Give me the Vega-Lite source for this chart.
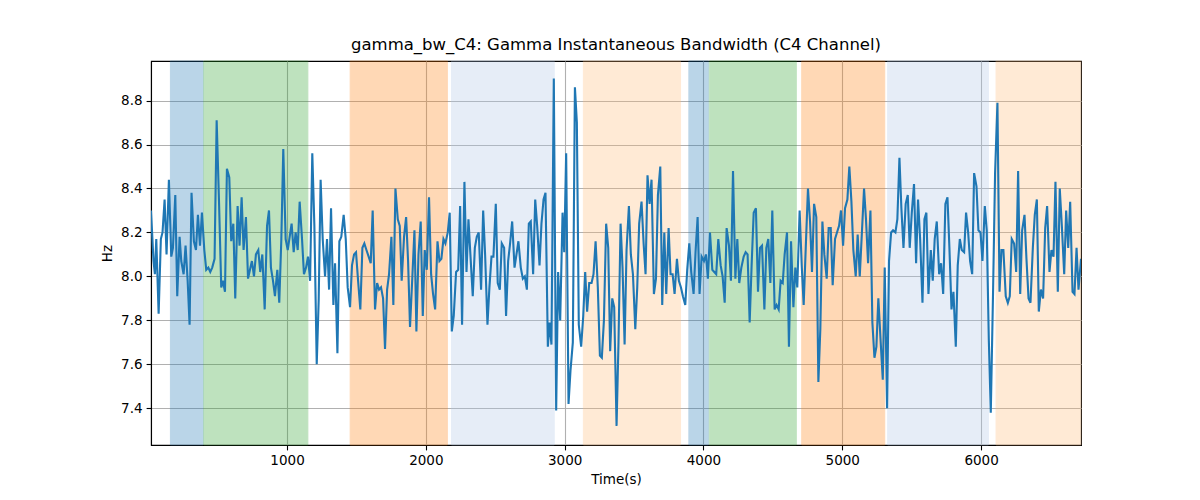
{
  "$schema": "https://vega.github.io/schema/vega-lite/v6.json",
  "autosize": {"type": "none"},
  "width": 930,
  "height": 384,
  "padding": {"left": 151, "top": 61, "right": 119, "bottom": 55},
  "title": {
    "text": "gamma_bw_C4: Gamma Instantaneous Bandwidth (C4 Channel)",
    "font": "DejaVu Sans",
    "fontSize": 16.5,
    "fontWeight": "normal",
    "color": "black",
    "anchor": "middle",
    "offset": 7
  },
  "config": {
    "view": {"stroke": "black", "strokeWidth": 1.1},
    "axis": {
      "grid": true,
      "gridColor": "#b0b0b0",
      "gridWidth": 1.1,
      "domainColor": "black",
      "domainWidth": 1.1,
      "tickColor": "black",
      "tickSize": 4.9,
      "tickWidth": 1.1,
      "labelColor": "black",
      "labelFont": "DejaVu Sans",
      "labelFontSize": 13.5,
      "labelPadding": 4,
      "titleFont": "DejaVu Sans",
      "titleFontSize": 13.5,
      "titleFontWeight": "normal",
      "titleColor": "black"
    }
  },
  "datasets": {
    "bands": [
      {"start": 160, "end": 395, "kind": "A"},
      {"start": 400, "end": 1150, "kind": "B"},
      {"start": 1455, "end": 2155, "kind": "C"},
      {"start": 2185, "end": 2925, "kind": "D"},
      {"start": 3135, "end": 3835, "kind": "E"},
      {"start": 3895, "end": 4035, "kind": "A"},
      {"start": 4042, "end": 4669, "kind": "B"},
      {"start": 4708, "end": 5306, "kind": "C"},
      {"start": 5327, "end": 6053, "kind": "D"},
      {"start": 6108, "end": 6720, "kind": "E"}
    ],
    "series": [
      {"t": 20, "v": 8.30}, {"t": 38, "v": 8.07}, {"t": 48, "v": 8.01}, {"t": 58, "v": 8.17},
      {"t": 75, "v": 7.83}, {"t": 91, "v": 8.17}, {"t": 103, "v": 8.20}, {"t": 118, "v": 8.35},
      {"t": 132, "v": 8.10}, {"t": 149, "v": 8.44}, {"t": 166, "v": 8.09}, {"t": 178, "v": 8.13},
      {"t": 195, "v": 8.37}, {"t": 209, "v": 7.91}, {"t": 226, "v": 8.18}, {"t": 238, "v": 8.07},
      {"t": 255, "v": 8.01}, {"t": 269, "v": 8.14}, {"t": 284, "v": 7.98}, {"t": 298, "v": 7.78},
      {"t": 312, "v": 8.38}, {"t": 329, "v": 8.16}, {"t": 344, "v": 8.12}, {"t": 358, "v": 8.28},
      {"t": 373, "v": 8.14}, {"t": 387, "v": 8.29}, {"t": 404, "v": 8.12}, {"t": 418, "v": 8.03},
      {"t": 433, "v": 8.04}, {"t": 447, "v": 8.02}, {"t": 461, "v": 8.04}, {"t": 478, "v": 8.08},
      {"t": 493, "v": 8.71}, {"t": 510, "v": 8.34}, {"t": 526, "v": 7.95}, {"t": 538, "v": 7.98},
      {"t": 553, "v": 7.93}, {"t": 567, "v": 8.49}, {"t": 584, "v": 8.45}, {"t": 598, "v": 8.16},
      {"t": 613, "v": 8.24}, {"t": 627, "v": 7.90}, {"t": 644, "v": 8.32}, {"t": 658, "v": 8.14},
      {"t": 673, "v": 8.36}, {"t": 687, "v": 8.12}, {"t": 704, "v": 8.27}, {"t": 719, "v": 7.99},
      {"t": 733, "v": 8.03}, {"t": 747, "v": 8.07}, {"t": 762, "v": 8.00}, {"t": 776, "v": 8.10},
      {"t": 793, "v": 8.12}, {"t": 807, "v": 8.02}, {"t": 822, "v": 8.10}, {"t": 839, "v": 7.85},
      {"t": 856, "v": 8.23}, {"t": 870, "v": 8.30}, {"t": 884, "v": 8.04}, {"t": 899, "v": 7.98},
      {"t": 913, "v": 7.91}, {"t": 930, "v": 8.03}, {"t": 944, "v": 7.88}, {"t": 959, "v": 8.17},
      {"t": 973, "v": 8.58}, {"t": 990, "v": 8.17}, {"t": 1005, "v": 8.12}, {"t": 1019, "v": 8.18},
      {"t": 1033, "v": 8.24}, {"t": 1048, "v": 8.11}, {"t": 1062, "v": 8.20}, {"t": 1077, "v": 8.12},
      {"t": 1091, "v": 8.34}, {"t": 1108, "v": 8.17}, {"t": 1122, "v": 8.01}, {"t": 1137, "v": 8.04},
      {"t": 1151, "v": 8.09}, {"t": 1166, "v": 7.98}, {"t": 1182, "v": 8.56}, {"t": 1197, "v": 8.23},
      {"t": 1214, "v": 7.60}, {"t": 1228, "v": 7.89}, {"t": 1242, "v": 8.44}, {"t": 1257, "v": 8.17},
      {"t": 1274, "v": 8.00}, {"t": 1288, "v": 8.17}, {"t": 1303, "v": 7.94}, {"t": 1317, "v": 8.31},
      {"t": 1334, "v": 7.87}, {"t": 1346, "v": 8.06}, {"t": 1363, "v": 7.65}, {"t": 1377, "v": 8.16},
      {"t": 1391, "v": 8.18}, {"t": 1408, "v": 8.28}, {"t": 1423, "v": 8.17}, {"t": 1437, "v": 7.95},
      {"t": 1454, "v": 7.86}, {"t": 1468, "v": 8.05}, {"t": 1483, "v": 8.10}, {"t": 1497, "v": 8.11},
      {"t": 1512, "v": 7.98}, {"t": 1528, "v": 7.85}, {"t": 1543, "v": 8.13}, {"t": 1557, "v": 8.15},
      {"t": 1572, "v": 8.12}, {"t": 1588, "v": 8.09}, {"t": 1603, "v": 8.06}, {"t": 1617, "v": 8.30},
      {"t": 1634, "v": 7.85}, {"t": 1649, "v": 7.97}, {"t": 1663, "v": 7.94}, {"t": 1677, "v": 7.95},
      {"t": 1692, "v": 7.90}, {"t": 1706, "v": 7.67}, {"t": 1721, "v": 7.94}, {"t": 1735, "v": 8.01},
      {"t": 1752, "v": 8.18}, {"t": 1766, "v": 7.87}, {"t": 1781, "v": 8.40}, {"t": 1798, "v": 8.26},
      {"t": 1812, "v": 8.23}, {"t": 1826, "v": 7.98}, {"t": 1843, "v": 8.18}, {"t": 1858, "v": 8.27},
      {"t": 1872, "v": 8.07}, {"t": 1886, "v": 7.77}, {"t": 1903, "v": 8.00}, {"t": 1918, "v": 8.21},
      {"t": 1932, "v": 7.75}, {"t": 1947, "v": 8.10}, {"t": 1963, "v": 8.25}, {"t": 1978, "v": 7.82},
      {"t": 1992, "v": 8.12}, {"t": 2007, "v": 8.03}, {"t": 2023, "v": 8.36}, {"t": 2038, "v": 8.01},
      {"t": 2052, "v": 7.92}, {"t": 2067, "v": 7.85}, {"t": 2084, "v": 8.16}, {"t": 2098, "v": 8.07},
      {"t": 2112, "v": 8.08}, {"t": 2127, "v": 8.17}, {"t": 2141, "v": 8.15}, {"t": 2158, "v": 8.20},
      {"t": 2172, "v": 8.29}, {"t": 2187, "v": 7.75}, {"t": 2201, "v": 7.82}, {"t": 2218, "v": 8.02},
      {"t": 2233, "v": 8.03}, {"t": 2247, "v": 8.32}, {"t": 2261, "v": 7.78}, {"t": 2278, "v": 8.43},
      {"t": 2293, "v": 8.02}, {"t": 2307, "v": 8.26}, {"t": 2321, "v": 8.10}, {"t": 2338, "v": 7.91},
      {"t": 2353, "v": 8.13}, {"t": 2367, "v": 8.18}, {"t": 2381, "v": 8.20}, {"t": 2398, "v": 7.94},
      {"t": 2413, "v": 8.30}, {"t": 2427, "v": 8.10}, {"t": 2444, "v": 7.78}, {"t": 2458, "v": 7.95},
      {"t": 2473, "v": 8.09}, {"t": 2487, "v": 8.09}, {"t": 2504, "v": 8.33}, {"t": 2518, "v": 7.97},
      {"t": 2533, "v": 7.94}, {"t": 2547, "v": 8.15}, {"t": 2564, "v": 8.13}, {"t": 2578, "v": 7.82},
      {"t": 2593, "v": 8.07}, {"t": 2607, "v": 8.15}, {"t": 2622, "v": 8.25}, {"t": 2639, "v": 8.04},
      {"t": 2653, "v": 8.10}, {"t": 2667, "v": 8.16}, {"t": 2684, "v": 8.04}, {"t": 2699, "v": 7.99},
      {"t": 2713, "v": 8.00}, {"t": 2728, "v": 7.94}, {"t": 2742, "v": 8.24}, {"t": 2756, "v": 8.25},
      {"t": 2773, "v": 8.01}, {"t": 2788, "v": 8.35}, {"t": 2802, "v": 8.23}, {"t": 2819, "v": 8.05},
      {"t": 2833, "v": 8.24}, {"t": 2848, "v": 8.35}, {"t": 2862, "v": 8.38}, {"t": 2879, "v": 7.68},
      {"t": 2891, "v": 7.79}, {"t": 2905, "v": 7.69}, {"t": 2922, "v": 8.90}, {"t": 2939, "v": 7.39},
      {"t": 2953, "v": 8.02}, {"t": 2968, "v": 7.80}, {"t": 2985, "v": 8.29}, {"t": 2997, "v": 8.11},
      {"t": 3011, "v": 8.56}, {"t": 3028, "v": 7.42}, {"t": 3042, "v": 7.57}, {"t": 3059, "v": 7.70},
      {"t": 3074, "v": 8.86}, {"t": 3088, "v": 8.70}, {"t": 3102, "v": 7.78}, {"t": 3119, "v": 7.68},
      {"t": 3134, "v": 7.82}, {"t": 3148, "v": 8.02}, {"t": 3162, "v": 7.84}, {"t": 3177, "v": 7.97},
      {"t": 3194, "v": 7.97}, {"t": 3208, "v": 8.01}, {"t": 3223, "v": 8.16}, {"t": 3239, "v": 7.95},
      {"t": 3254, "v": 7.64}, {"t": 3268, "v": 7.63}, {"t": 3283, "v": 7.80}, {"t": 3299, "v": 8.24},
      {"t": 3314, "v": 8.13}, {"t": 3328, "v": 7.66}, {"t": 3343, "v": 7.90}, {"t": 3357, "v": 7.86},
      {"t": 3374, "v": 7.32}, {"t": 3388, "v": 7.70}, {"t": 3403, "v": 8.24}, {"t": 3417, "v": 8.04},
      {"t": 3432, "v": 7.69}, {"t": 3446, "v": 8.12}, {"t": 3463, "v": 8.32}, {"t": 3477, "v": 8.10},
      {"t": 3492, "v": 8.01}, {"t": 3509, "v": 7.76}, {"t": 3523, "v": 7.95}, {"t": 3537, "v": 8.24},
      {"t": 3554, "v": 8.34}, {"t": 3569, "v": 8.15}, {"t": 3583, "v": 8.01}, {"t": 3597, "v": 8.46},
      {"t": 3612, "v": 8.33}, {"t": 3626, "v": 8.44}, {"t": 3643, "v": 7.92}, {"t": 3658, "v": 7.99},
      {"t": 3672, "v": 8.37}, {"t": 3689, "v": 8.50}, {"t": 3703, "v": 7.87}, {"t": 3718, "v": 8.20},
      {"t": 3732, "v": 7.92}, {"t": 3749, "v": 8.22}, {"t": 3763, "v": 8.01}, {"t": 3778, "v": 8.01},
      {"t": 3792, "v": 7.92}, {"t": 3809, "v": 8.08}, {"t": 3823, "v": 7.98}, {"t": 3838, "v": 7.95},
      {"t": 3852, "v": 7.91}, {"t": 3869, "v": 7.87}, {"t": 3883, "v": 8.03}, {"t": 3898, "v": 8.15},
      {"t": 3912, "v": 8.02}, {"t": 3929, "v": 7.92}, {"t": 3943, "v": 8.11}, {"t": 3958, "v": 8.27},
      {"t": 3972, "v": 7.92}, {"t": 3987, "v": 8.09}, {"t": 4004, "v": 8.07}, {"t": 4018, "v": 8.10},
      {"t": 4032, "v": 7.99}, {"t": 4047, "v": 8.20}, {"t": 4064, "v": 8.03}, {"t": 4078, "v": 8.02},
      {"t": 4092, "v": 8.01}, {"t": 4107, "v": 8.17}, {"t": 4124, "v": 8.05}, {"t": 4138, "v": 8.00},
      {"t": 4153, "v": 7.88}, {"t": 4167, "v": 8.22}, {"t": 4184, "v": 8.14}, {"t": 4198, "v": 7.98},
      {"t": 4213, "v": 8.48}, {"t": 4230, "v": 7.99}, {"t": 4244, "v": 8.17}, {"t": 4258, "v": 7.97},
      {"t": 4273, "v": 8.04}, {"t": 4290, "v": 8.09}, {"t": 4304, "v": 8.11}, {"t": 4318, "v": 8.10},
      {"t": 4333, "v": 7.79}, {"t": 4347, "v": 8.05}, {"t": 4362, "v": 8.29}, {"t": 4378, "v": 8.31},
      {"t": 4393, "v": 7.93}, {"t": 4407, "v": 8.13}, {"t": 4422, "v": 8.14}, {"t": 4439, "v": 7.85},
      {"t": 4453, "v": 8.13}, {"t": 4467, "v": 8.17}, {"t": 4482, "v": 7.97}, {"t": 4496, "v": 8.30},
      {"t": 4513, "v": 7.85}, {"t": 4527, "v": 7.87}, {"t": 4542, "v": 7.85}, {"t": 4556, "v": 7.98},
      {"t": 4571, "v": 7.97}, {"t": 4585, "v": 8.10}, {"t": 4602, "v": 8.20}, {"t": 4616, "v": 7.68},
      {"t": 4631, "v": 8.16}, {"t": 4648, "v": 7.86}, {"t": 4662, "v": 8.04}, {"t": 4676, "v": 7.95},
      {"t": 4693, "v": 8.30}, {"t": 4708, "v": 8.05}, {"t": 4722, "v": 7.87}, {"t": 4737, "v": 8.13},
      {"t": 4753, "v": 8.40}, {"t": 4768, "v": 8.25}, {"t": 4782, "v": 8.02}, {"t": 4797, "v": 8.33},
      {"t": 4813, "v": 8.27}, {"t": 4828, "v": 7.52}, {"t": 4842, "v": 7.76}, {"t": 4857, "v": 8.25},
      {"t": 4871, "v": 8.10}, {"t": 4888, "v": 7.99}, {"t": 4902, "v": 8.22}, {"t": 4917, "v": 8.22},
      {"t": 4931, "v": 7.96}, {"t": 4948, "v": 8.17}, {"t": 4962, "v": 8.20}, {"t": 4977, "v": 8.23},
      {"t": 4991, "v": 8.30}, {"t": 5006, "v": 8.14}, {"t": 5020, "v": 8.31}, {"t": 5037, "v": 8.35},
      {"t": 5051, "v": 8.50}, {"t": 5066, "v": 8.34}, {"t": 5080, "v": 8.12}, {"t": 5097, "v": 8.00},
      {"t": 5111, "v": 8.19}, {"t": 5126, "v": 8.00}, {"t": 5140, "v": 8.18}, {"t": 5157, "v": 8.40},
      {"t": 5171, "v": 8.26}, {"t": 5186, "v": 8.06}, {"t": 5203, "v": 8.30}, {"t": 5217, "v": 7.79},
      {"t": 5232, "v": 7.63}, {"t": 5246, "v": 7.68}, {"t": 5260, "v": 7.90}, {"t": 5277, "v": 7.70},
      {"t": 5292, "v": 7.53}, {"t": 5306, "v": 8.04}, {"t": 5323, "v": 7.40}, {"t": 5337, "v": 8.07},
      {"t": 5352, "v": 8.20}, {"t": 5366, "v": 8.21}, {"t": 5383, "v": 8.20}, {"t": 5397, "v": 8.26},
      {"t": 5412, "v": 8.54}, {"t": 5426, "v": 8.31}, {"t": 5441, "v": 8.13}, {"t": 5457, "v": 8.33},
      {"t": 5472, "v": 8.37}, {"t": 5486, "v": 8.13}, {"t": 5501, "v": 8.29}, {"t": 5517, "v": 8.42},
      {"t": 5532, "v": 8.06}, {"t": 5546, "v": 8.35}, {"t": 5561, "v": 8.17}, {"t": 5578, "v": 7.88},
      {"t": 5592, "v": 8.26}, {"t": 5606, "v": 8.29}, {"t": 5621, "v": 7.92}, {"t": 5638, "v": 8.12},
      {"t": 5652, "v": 7.98}, {"t": 5666, "v": 8.17}, {"t": 5681, "v": 8.25}, {"t": 5698, "v": 8.01},
      {"t": 5712, "v": 8.06}, {"t": 5727, "v": 7.92}, {"t": 5743, "v": 8.33}, {"t": 5758, "v": 8.36},
      {"t": 5772, "v": 8.13}, {"t": 5787, "v": 7.85}, {"t": 5801, "v": 7.93}, {"t": 5818, "v": 7.68},
      {"t": 5832, "v": 8.05}, {"t": 5847, "v": 8.17}, {"t": 5861, "v": 8.12}, {"t": 5878, "v": 8.11},
      {"t": 5892, "v": 8.29}, {"t": 5907, "v": 8.20}, {"t": 5921, "v": 8.07}, {"t": 5936, "v": 8.01},
      {"t": 5950, "v": 8.47}, {"t": 5967, "v": 8.41}, {"t": 5981, "v": 8.21}, {"t": 5996, "v": 8.20},
      {"t": 6010, "v": 8.07}, {"t": 6027, "v": 8.32}, {"t": 6041, "v": 8.21}, {"t": 6056, "v": 7.71},
      {"t": 6070, "v": 7.38}, {"t": 6087, "v": 7.95}, {"t": 6101, "v": 8.47}, {"t": 6118, "v": 8.79},
      {"t": 6133, "v": 7.93}, {"t": 6147, "v": 8.12}, {"t": 6161, "v": 8.12}, {"t": 6178, "v": 7.91},
      {"t": 6193, "v": 7.88}, {"t": 6207, "v": 7.91}, {"t": 6221, "v": 8.17}, {"t": 6238, "v": 8.15},
      {"t": 6253, "v": 8.02}, {"t": 6267, "v": 8.48}, {"t": 6282, "v": 7.92}, {"t": 6296, "v": 8.21},
      {"t": 6313, "v": 8.28}, {"t": 6327, "v": 8.08}, {"t": 6342, "v": 7.90}, {"t": 6356, "v": 7.88},
      {"t": 6373, "v": 8.13}, {"t": 6387, "v": 8.28}, {"t": 6402, "v": 8.35}, {"t": 6416, "v": 7.84},
      {"t": 6431, "v": 7.94}, {"t": 6447, "v": 7.90}, {"t": 6462, "v": 8.22}, {"t": 6476, "v": 8.32},
      {"t": 6493, "v": 8.02}, {"t": 6507, "v": 8.12}, {"t": 6522, "v": 8.09}, {"t": 6536, "v": 8.43},
      {"t": 6553, "v": 7.93}, {"t": 6567, "v": 8.40}, {"t": 6582, "v": 8.23}, {"t": 6599, "v": 8.01},
      {"t": 6613, "v": 8.30}, {"t": 6628, "v": 8.13}, {"t": 6642, "v": 8.34}, {"t": 6659, "v": 7.93},
      {"t": 6673, "v": 7.92}, {"t": 6688, "v": 8.13}, {"t": 6702, "v": 7.94}, {"t": 6720, "v": 8.08}
    ]
  },
  "layer": [
    {
      "data": {"name": "bands"},
      "mark": {"type": "rect", "opacity": 0.3, "strokeWidth": 1},
      "encoding": {
        "x": {
          "field": "start",
          "type": "quantitative",
          "scale": {"domain": [20, 6720], "nice": false, "zero": false},
          "axis": {"title": "Time(s)", "values": [1000, 2000, 3000, 4000, 5000, 6000], "format": "d", "titlePadding": 5}
        },
        "x2": {"field": "end"},
        "color": {
          "field": "kind",
          "type": "nominal",
          "scale": {"domain": ["A", "B", "C", "D", "E"], "range": ["#1f77b4", "#2ca02c", "#ff7f0e", "#aec7e8", "#ffbb78"]},
          "legend": null
        },
        "stroke": {
          "field": "kind",
          "type": "nominal",
          "scale": {"domain": ["A", "B", "C", "D", "E"], "range": ["#1f77b4", "#2ca02c", "#ff7f0e", "#aec7e8", "#ffbb78"]},
          "legend": null
        }
      }
    },
    {
      "data": {"name": "series"},
      "mark": {"type": "line", "color": "#1f77b4", "strokeWidth": 2.1, "clip": true},
      "encoding": {
        "x": {"field": "t", "type": "quantitative"},
        "y": {
          "field": "v",
          "type": "quantitative",
          "scale": {"domain": [7.233, 8.98], "nice": false, "zero": false},
          "axis": {"title": "Hz", "values": [7.4, 7.6, 7.8, 8.0, 8.2, 8.4, 8.6, 8.8], "format": ".1f", "titlePadding": 6}
        }
      }
    }
  ]
}
